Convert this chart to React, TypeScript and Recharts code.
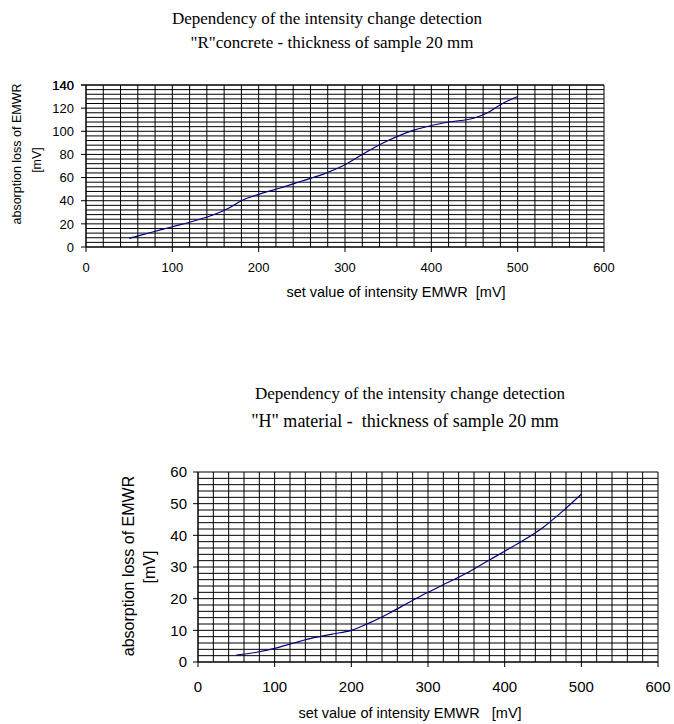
import React from 'react';
import { LineChart, Line, XAxis, YAxis, CartesianGrid } from 'recharts';

// "R" concrete curve
const rConcreteX = [50, 75, 100, 125, 150, 165, 180, 200, 225, 250, 275, 300, 320, 350, 380, 400, 420, 450, 465, 480, 500];
const rConcreteY = [7.5, 12.5, 17.5, 22.5, 28.5, 33.5, 40, 45.5, 51, 57, 63, 71, 80, 92, 101, 105, 108, 111.5, 116, 123, 130];

// "H" material curve
const hMaterialX = [50, 75, 100, 125, 150, 175, 200, 225, 250, 275, 300, 325, 350, 375, 400, 425, 450, 475, 500];
const hMaterialY = [2.2, 3, 4.3, 6, 7.6, 8.8, 10, 12.5, 15.5, 18.8, 22, 25, 28, 31.5, 35, 38.5, 42.5, 47.5, 53];

const xMajor = [0, 100, 200, 300, 400, 500, 600];
const topYMajor = [0, 20, 40, 60, 80, 100, 120, 140];
const bottomYMajor = [0, 10, 20, 30, 40, 50, 60];

// minor grid steps
const xGrid = Array.from({ length: 31 }, (_, i) => i * 20);
const topYGrid = Array.from({ length: 36 }, (_, i) => i * 4);
const bottomYGrid = Array.from({ length: 31 }, (_, i) => i * 2);

const SANS = '"Liberation Sans", Arial, sans-serif';
const SERIF = '"Liberation Serif", "Times New Roman", serif';
const LINE_COLOR = '#000080';

const toRows = (xs: number[], ys: number[]) => xs.map((x, i) => ({ x, y: ys[i] }));

const XTick = ({ x, y, payload, fontSize, gap }: any) => {
  if (!xMajor.includes(payload.value)) return null;
  return (
    <g>
      <line x1={x} x2={x} y1={y} y2={y + 5} stroke="#000" />
      <text x={x} y={y + gap} textAnchor="middle" fontSize={fontSize} fontFamily={SANS} fill="#000">
        {payload.value}
      </text>
    </g>
  );
};

const YTick = ({ x, y, payload, fontSize, majors, gap }: any) => {
  if (!majors.includes(payload.value)) return null;
  return (
    <g>
      <line x1={x - 5} x2={x} y1={y} y2={y} stroke="#000" />
      <text x={x - gap} y={y} dy="0.36em" textAnchor="end" fontSize={fontSize} fontFamily={SANS} fill="#000">
        {payload.value}
      </text>
    </g>
  );
};

const Txt = ({ cx, cy, size, font, rotate, children }: any) => (
  <div
    style={{
      position: 'absolute',
      left: cx,
      top: cy,
      transform: `translate(-50%, -50%)${rotate ? ' rotate(-90deg)' : ''}`,
      whiteSpace: 'pre',
      fontSize: size,
      fontFamily: font,
      color: '#000',
      lineHeight: 1,
    }}
  >
    {children}
  </div>
);

export default function App() {
  const topData = toRows(rConcreteX, rConcreteY);
  const bottomData = toRows(hMaterialX, hMaterialY);

  return (
    <div style={{ position: 'absolute', left: 0, top: 0, width: 674, height: 724, background: '#fff', overflow: 'hidden' }}>
      {/* top chart */}
      <div style={{ position: 'absolute', left: 0, top: 0 }}>
        <LineChart width={674} height={300} data={topData} margin={{ top: 85, right: 70, bottom: 23, left: 46 }}>
          <CartesianGrid stroke="#000" strokeWidth={1} />
          <XAxis
            dataKey="x"
            type="number"
            domain={[0, 600]}
            ticks={xGrid}
            interval={0}
            tickSize={0}
            tickMargin={0}
            height={30}
            axisLine={{ stroke: '#000' }}
            tickLine={false}
            tick={<XTick fontSize={13} gap={25} />}
          />
          <YAxis
            dataKey="y"
            type="number"
            domain={[0, 140]}
            ticks={topYGrid.concat([140])}
            interval={0}
            tickSize={0}
            tickMargin={0}
            width={40}
            axisLine={{ stroke: '#000' }}
            tickLine={false}
            tick={<YTick fontSize={13} majors={topYMajor} gap={12} />}
          />
          <Line type="monotone" dataKey="y" stroke={LINE_COLOR} strokeWidth={1.2} dot={false} isAnimationActive={false} />
        </LineChart>
      </div>

      {/* bottom chart */}
      <div style={{ position: 'absolute', left: 0, top: 370 }}>
        <LineChart width={674} height={354} data={bottomData} margin={{ top: 102, right: 16, bottom: 22, left: 158 }}>
          <CartesianGrid stroke="#000" strokeWidth={1} />
          <XAxis
            dataKey="x"
            type="number"
            domain={[0, 600]}
            ticks={xGrid}
            interval={0}
            tickSize={0}
            tickMargin={0}
            height={40}
            axisLine={{ stroke: '#000' }}
            tickLine={false}
            tick={<XTick fontSize={15} gap={30} />}
          />
          <YAxis
            dataKey="y"
            type="number"
            domain={[0, 60]}
            ticks={bottomYGrid}
            interval={0}
            tickSize={0}
            tickMargin={0}
            width={40}
            axisLine={{ stroke: '#000' }}
            tickLine={false}
            tick={<YTick fontSize={15} majors={bottomYMajor} gap={11} />}
          />
          <Line type="monotone" dataKey="y" stroke={LINE_COLOR} strokeWidth={1.2} dot={false} isAnimationActive={false} />
        </LineChart>
      </div>

      {/* titles and axis labels */}
      <Txt cx={327} cy={18} size={17} font={SERIF}>Dependency of the intensity change detection</Txt>
      <Txt cx={332} cy={42} size={17} font={SERIF}>"R"concrete - thickness of sample 20 mm</Txt>
      <Txt cx={17} cy={154} size={12.5} font={SANS} rotate>absorption loss of EMWR</Txt>
      <Txt cx={37} cy={160} size={12.5} font={SANS} rotate>[mV]</Txt>
      <Txt cx={396} cy={292} size={14.5} font={SANS}>{'set value of intensity EMWR  [mV]'}</Txt>

      <Txt cx={410} cy={393} size={17} font={SERIF}>Dependency of the intensity change detection</Txt>
      <Txt cx={405} cy={421} size={18} font={SERIF}>{'"H" material -  thickness of sample 20 mm'}</Txt>
      <Txt cx={129} cy={566} size={16} font={SANS} rotate>absorption loss of EMWR</Txt>
      <Txt cx={150} cy={567} size={16} font={SANS} rotate>[mV]</Txt>
      <Txt cx={410} cy={713} size={14.5} font={SANS}>{'set value of intensity EMWR   [mV]'}</Txt>
    </div>
  );
}
